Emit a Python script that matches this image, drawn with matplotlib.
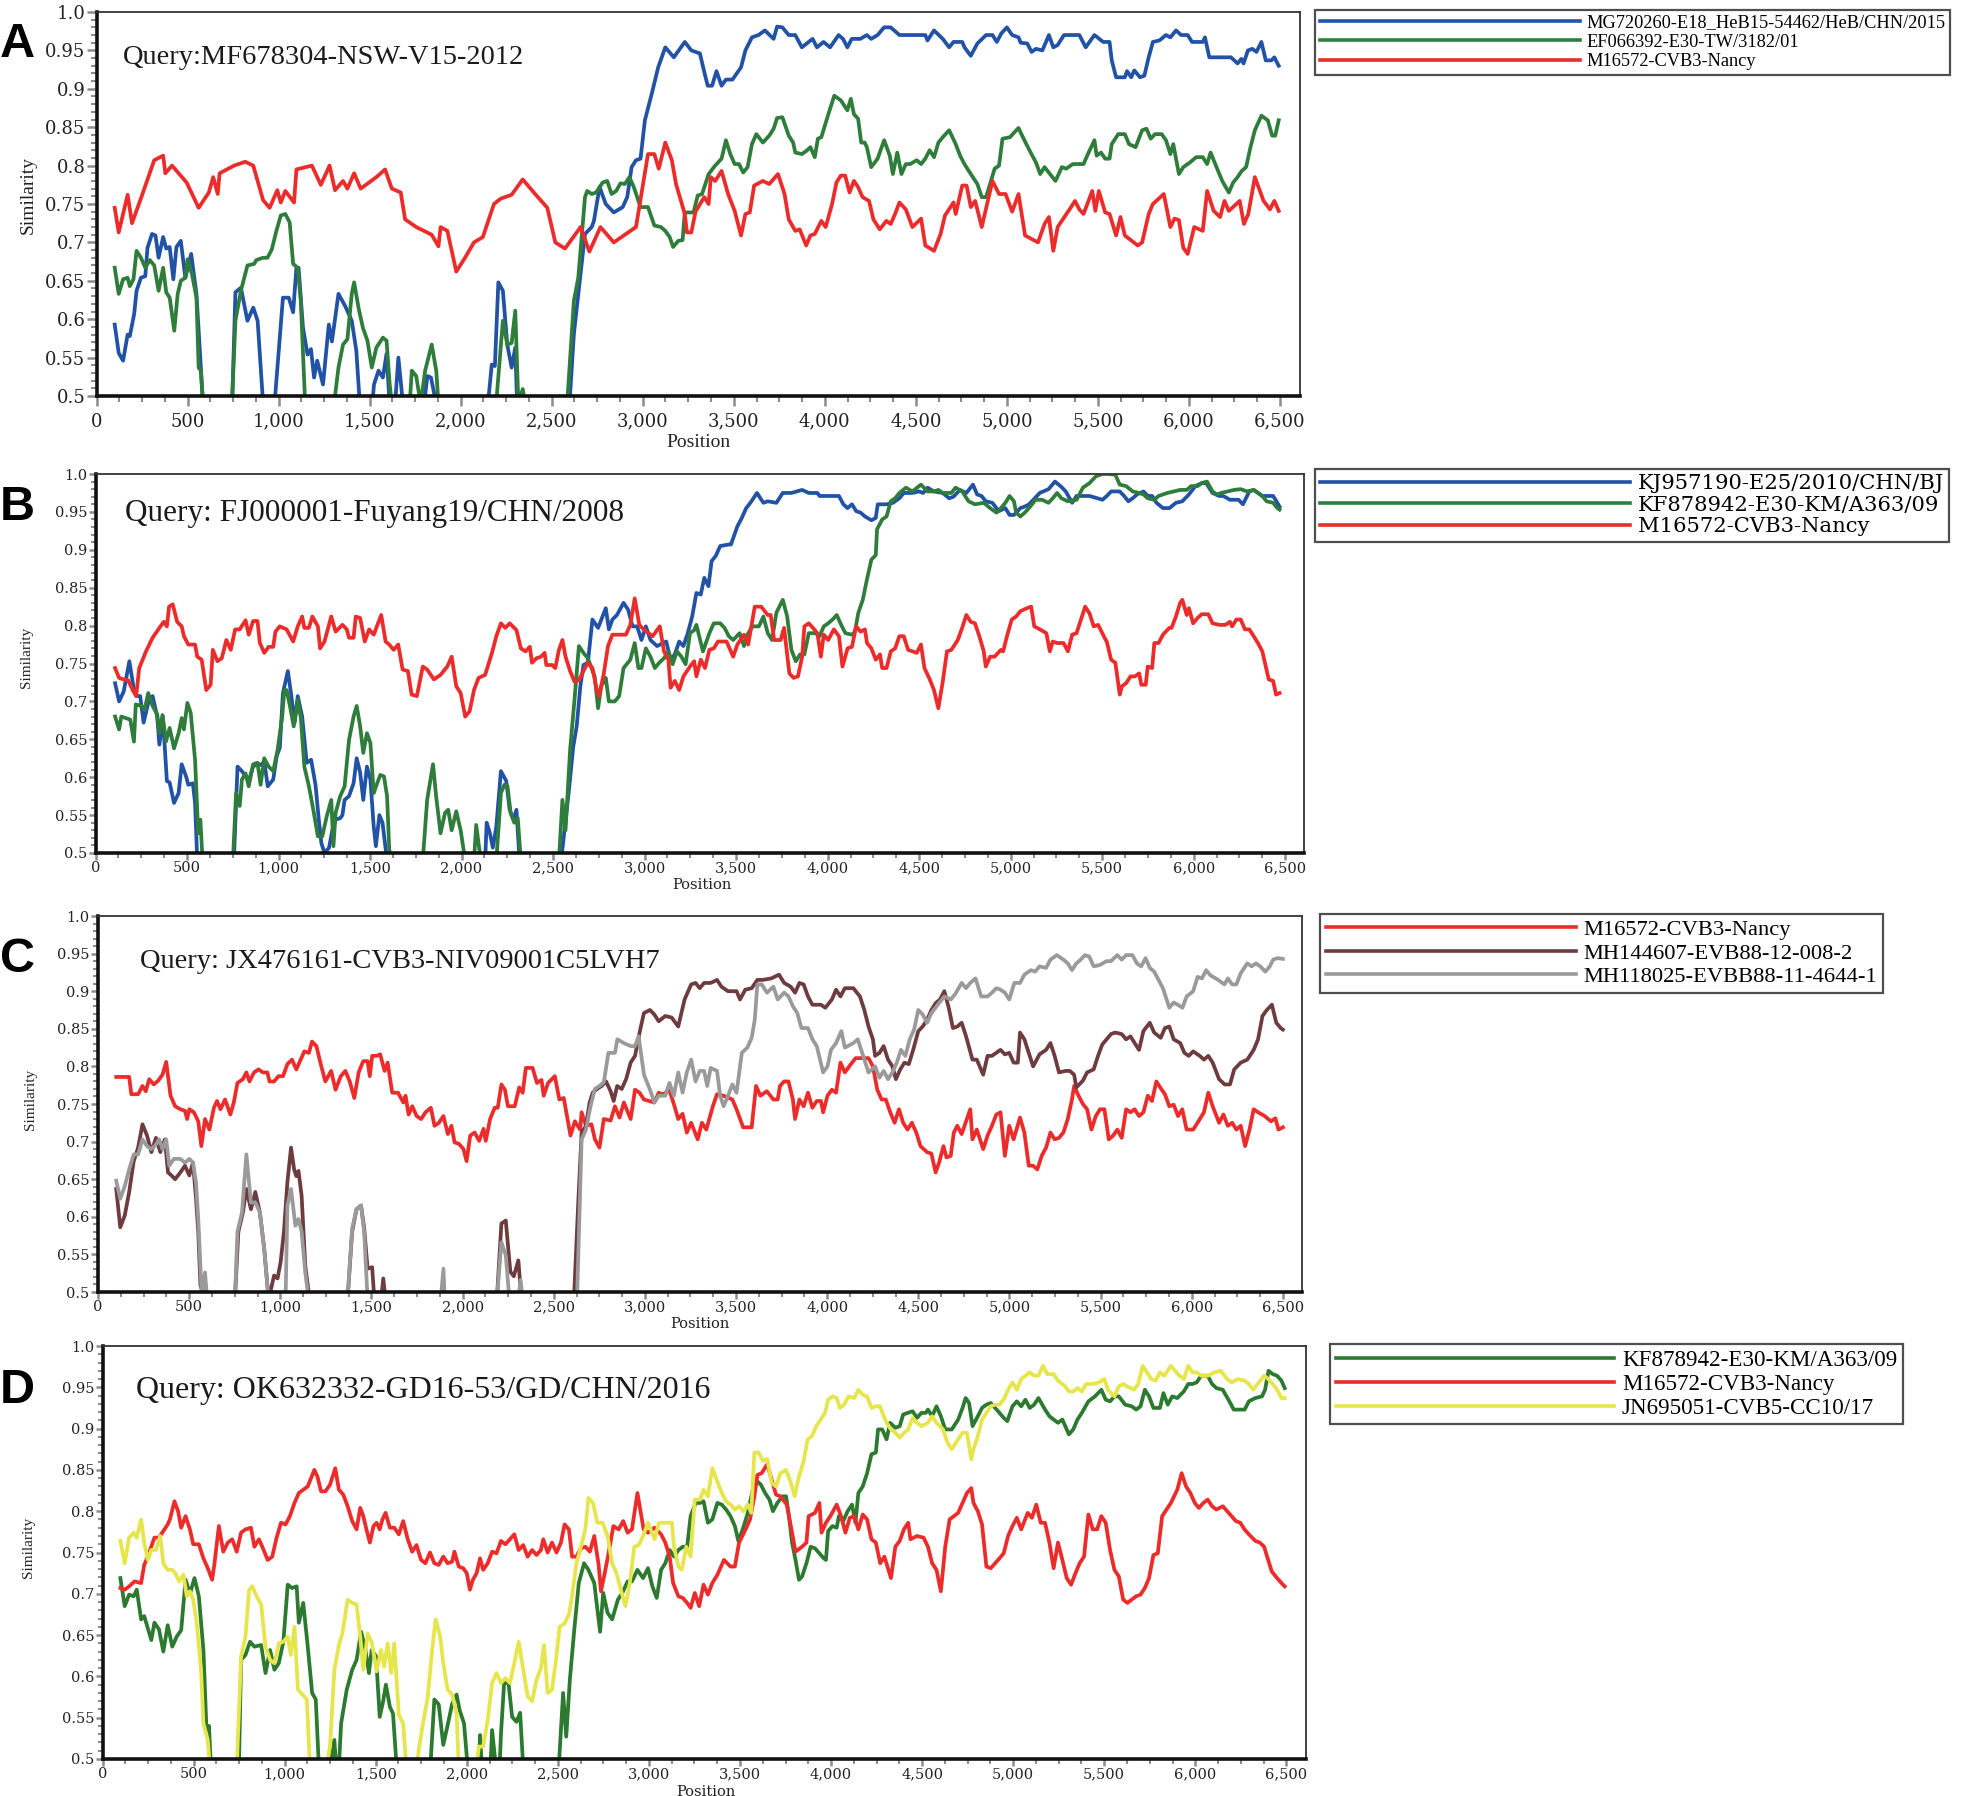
import matplotlib
matplotlib.use("Agg")
import matplotlib.pyplot as plt
from matplotlib.ticker import MultipleLocator, FuncFormatter
from matplotlib.lines import Line2D

W, H, DPI = 1967, 1796, 100

BLUE = "#2152a6"
GREEN = "#2f7d3b"
RED = "#ec2b2b"
BROWN = "#6e3b3e"
GRAY = "#9a9a9a"
YELLOW = "#e6e64c"
DKGREEN = "#2b7a30"

# (position, similarity) pairs; 0.49 = line drops below the axis
A_RED = [(100,.745),(122,.713),(171,.762),(195,.725),(251,.762),(317,.807),(366,.813),(378,.79),(415,.80),(495,.778),(561,.745),(617,.765),(641,.785),(666,.763),(676,.79),(756,.80),(817,.805),(861,.80),(915,.755),(951,.745),(993,.768),(1012,.752),(1037,.767),(1085,.752),(1098,.795),(1183,.80),(1232,.775),(1280,.80),(1310,.768),(1354,.78),(1378,.77),(1415,.79),(1451,.77),(1537,.785),(1585,.795),(1622,.77),(1671,.765),(1695,.73),(1756,.72),(1841,.71),(1878,.695),(1890,.72),(1927,.715),(1976,.662),(2024,.68),(2073,.70),(2122,.707),(2183,.75),(2220,.757),(2280,.762),(2341,.782),(2402,.765),(2476,.745),(2520,.70),(2573,.692),(2659,.72),(2707,.688),(2768,.72),(2841,.70),(2963,.72),(3029,.815),(3064,.815),(3088,.796),(3124,.83),(3160,.807),(3183,.776),(3231,.737),(3243,.713),(3267,.713),(3290,.74),(3338,.759),(3362,.75),(3374,.785),(3398,.78),(3433,.793),(3469,.763),(3505,.741),(3540,.709),(3564,.737),(3588,.739),(3612,.774),(3660,.78),(3695,.776),(3743,.789),(3779,.763),(3802,.73),(3838,.715),(3862,.717),(3898,.696),(3921,.709),(3945,.711),(3981,.728),(4005,.72),(4040,.75),(4064,.778),(4088,.787),(4112,.787),(4136,.765),(4160,.78),(4183,.772),(4207,.759),(4243,.754),(4267,.73),(4302,.717),(4338,.728),(4362,.724),(4386,.737),(4410,.752),(4445,.743),(4481,.72),(4529,.731),(4552,.696),(4600,.689),(4636,.711),(4660,.735),(4707,.752),(4719,.737),(4755,.774),(4779,.774),(4802,.746),(4826,.754),(4862,.72),(4921,.78),(4957,.763),(4993,.763),(5029,.74),(5064,.763),(5100,.709),(5171,.70),(5207,.724),(5231,.733),(5255,.689),(5279,.72),(5350,.745),(5374,.754),(5398,.743),(5421,.737),(5469,.767),(5486,.741),(5505,.767),(5540,.739),(5564,.737),(5600,.709),(5624,.733),(5648,.709),(5719,.696),(5743,.70),(5779,.737),(5802,.75),(5862,.763),(5898,.72),(5921,.731),(5945,.729),(5969,.693),(5993,.685),(6029,.72),(6076,.715),(6100,.767),(6136,.741),(6171,.733),(6195,.754),(6219,.741),(6279,.754),(6302,.724),(6326,.737),(6362,.785),(6410,.754),(6445,.743),(6469,.754),(6493,.741)]

A_BLUE = [(100,.593),(122,.556),(146,.546),(171,.58),(183,.578),(207,.607),(220,.637),(244,.654),(268,.656),(280,.693),(305,.711),(324,.709),(341,.68),(366,.707),(383,.692),(402,.694),(422,.652),(439,.694),(463,.702),(488,.654),(520,.685),(549,.633),(573,.537),(585,.49),(745,.49),(763,.635),(793,.641),(829,.598),(861,.615),(885,.598),(915,.49),(978,.49),(1024,.628),(1056,.628),(1080,.609),(1098,.667),(1110,.667),(1134,.589),(1159,.554),(1178,.561),(1195,.524),(1212,.546),(1244,.515),(1276,.593),(1293,.571),(1329,.633),(1366,.617),(1402,.598),(1427,.559),(1446,.49),(1515,.49),(1524,.515),(1549,.533),(1573,.524),(1593,.555),(1610,.49),(1640,.49),(1658,.55),(1683,.49),(1800,.49),(1817,.526),(1837,.524),(1866,.49),(2150,.49),(2171,.541),(2188,.539),(2207,.648),(2232,.637),(2256,.567),(2280,.537),(2300,.563),(2310,.49),(2598,.49),(2622,.581),(2683,.711),(2720,.72),(2732,.728),(2763,.772),(2797,.75),(2841,.739),(2890,.746),(2915,.759),(2939,.798),(2963,.807),(2988,.809),(3012,.859),(3049,.893),(3085,.928),(3124,.954),(3171,.941),(3231,.961),(3267,.95),(3314,.946),(3338,.922),(3357,.904),(3381,.904),(3405,.923),(3433,.904),(3457,.912),(3493,.912),(3540,.928),(3564,.95),(3600,.967),(3636,.97),(3671,.976),(3719,.965),(3738,.981),(3767,.98),(3802,.97),(3838,.97),(3874,.954),(3933,.965),(3957,.954),(3993,.961),(4029,.954),(4076,.97),(4100,.965),(4124,.954),(4148,.965),(4195,.965),(4231,.97),(4255,.965),(4290,.97),(4326,.98),(4362,.98),(4410,.97),(4552,.97),(4564,.963),(4600,.976),(4648,.965),(4683,.954),(4707,.961),(4755,.961),(4767,.954),(4802,.943),(4838,.959),(4886,.97),(4921,.97),(4945,.961),(4969,.972),(5000,.98),(5029,.97),(5064,.967),(5076,.96),(5112,.959),(5136,.948),(5160,.952),(5195,.95),(5231,.97),(5255,.954),(5279,.957),(5314,.97),(5398,.97),(5433,.954),(5481,.97),(5529,.961),(5564,.961),(5576,.937),(5600,.915),(5648,.915),(5660,.923),(5683,.915),(5700,.924),(5731,.915),(5755,.917),(5779,.941),(5802,.961),(5838,.963),(5874,.97),(5898,.967),(5929,.976),(5957,.97),(5993,.97),(6017,.961),(6076,.961),(6088,.967),(6112,.941),(6231,.941),(6267,.933),(6288,.939),(6300,.933),(6324,.95),(6348,.952),(6371,.948),(6398,.961),(6422,.937),(6453,.937),(6469,.941),(6493,.93)]

A_GREEN = [(100,.667),(122,.633),(146,.652),(171,.654),(183,.643),(203,.652),(220,.689),(244,.68),(268,.667),(293,.677),(317,.67),(341,.637),(366,.667),(383,.635),(402,.628),(427,.585),(446,.633),(463,.65),(488,.654),(500,.678),(524,.659),(549,.628),(561,.537),(573,.533),(585,.49),(744,.49),(763,.598),(793,.637),(829,.67),(866,.672),(878,.677),(915,.68),(939,.68),(963,.691),(988,.715),(1012,.735),(1037,.737),(1061,.726),(1080,.672),(1105,.667),(1122,.624),(1146,.49),(1305,.49),(1329,.537),(1354,.567),(1378,.574),(1402,.633),(1415,.648),(1439,.615),(1463,.589),(1488,.572),(1512,.537),(1537,.563),(1573,.576),(1593,.572),(1610,.516),(1622,.49),(1720,.49),(1732,.533),(1756,.526),(1780,.49),(1805,.533),(1841,.567),(1866,.533),(1878,.49),(2195,.49),(2232,.598),(2256,.567),(2280,.569),(2300,.611),(2317,.49),(2341,.509),(2354,.49),(2585,.49),(2622,.624),(2646,.654),(2683,.759),(2695,.767),(2720,.763),(2744,.765),(2780,.778),(2805,.78),(2829,.763),(2854,.767),(2878,.777),(2902,.776),(2927,.785),(2951,.772),(2988,.746),(3029,.746),(3064,.722),(3100,.72),(3124,.715),(3148,.707),(3167,.694),(3195,.702),(3219,.703),(3231,.739),(3279,.739),(3302,.761),(3326,.763),(3362,.789),(3398,.80),(3433,.809),(3457,.833),(3481,.815),(3505,.802),(3529,.802),(3552,.791),(3576,.798),(3600,.828),(3624,.841),(3660,.83),(3695,.839),(3719,.848),(3738,.862),(3767,.863),(3802,.839),(3826,.83),(3838,.817),(3874,.815),(3898,.819),(3921,.824),(3945,.811),(3962,.835),(3981,.837),(4017,.865),(4052,.891),(4088,.885),(4124,.872),(4143,.887),(4160,.867),(4183,.861),(4200,.83),(4219,.83),(4231,.824),(4255,.798),(4290,.809),(4326,.833),(4357,.813),(4374,.789),(4398,.817),(4421,.789),(4445,.802),(4469,.802),(4505,.807),(4529,.802),(4552,.809),(4576,.82),(4600,.811),(4624,.83),(4648,.837),(4683,.846),(4719,.828),(4743,.813),(4767,.802),(4802,.789),(4838,.776),(4862,.759),(4886,.759),(4933,.796),(4957,.80),(4976,.835),(5017,.837),(5040,.843),(5064,.849),(5088,.837),(5124,.82),(5160,.804),(5183,.789),(5207,.798),(5267,.78),(5302,.798),(5326,.796),(5362,.802),(5386,.802),(5421,.802),(5445,.815),(5481,.833),(5493,.813),(5517,.817),(5540,.809),(5564,.809),(5576,.828),(5612,.841),(5648,.841),(5671,.828),(5707,.824),(5743,.846),(5767,.848),(5790,.835),(5814,.841),(5850,.841),(5874,.833),(5898,.815),(5914,.828),(5945,.789),(5969,.798),(6005,.804),(6040,.811),(6076,.811),(6100,.802),(6119,.817),(6148,.80),(6183,.78),(6219,.765),(6243,.778),(6267,.785),(6290,.793),(6314,.798),(6338,.824),(6362,.846),(6398,.865),(6433,.859),(6457,.839),(6474,.839),(6493,.859)]

B_RED = [(107,.744),(129,.731),(154,.729),(178,.728),(203,.715),(222,.707),(239,.744),(276,.766),(312,.784),(349,.797),(373,.805),(390,.799),(402,.825),(422,.828),(446,.805),(471,.799),(483,.786),(507,.775),(544,.775),(556,.759),(580,.755),(605,.715),(629,.722),(641,.768),(666,.753),(690,.757),(715,.781),(739,.768),(763,.795),(788,.795),(820,.807),(837,.788),(861,.806),(885,.806),(898,.777),(922,.764),(946,.772),(971,.772),(983,.792),(1007,.799),(1044,.795),(1080,.779),(1105,.799),(1129,.812),(1141,.797),(1166,.797),(1185,.812),(1215,.799),(1227,.77),(1251,.779),(1288,.812),(1312,.792),(1349,.801),(1373,.795),(1385,.784),(1410,.784),(1422,.812),(1446,.81),(1471,.779),(1495,.795),(1520,.788),(1561,.814),(1585,.779),(1605,.775),(1629,.768),(1654,.775),(1678,.742),(1707,.74),(1727,.709),(1756,.707),(1788,.746),(1812,.742),(1849,.729),(1885,.735),(1922,.746),(1946,.759),(1971,.72),(1995,.711),(2020,.68),(2044,.687),(2068,.715),(2093,.731),(2129,.735),(2166,.764),(2190,.786),(2215,.803),(2239,.797),(2263,.803),(2300,.794),(2324,.77),(2349,.766),(2373,.772),(2385,.751),(2410,.757),(2434,.759),(2454,.764),(2463,.748),(2495,.748),(2512,.744),(2532,.768),(2551,.781),(2568,.759),(2593,.74),(2617,.726),(2641,.728),(2666,.74),(2690,.751),(2715,.744),(2739,.715),(2751,.707),(2776,.735),(2800,.773),(2824,.788),(2849,.788),(2898,.788),(2922,.801),(2946,.836),(2971,.801),(2995,.795),(3044,.786),(3083,.799),(3106,.766),(3130,.755),(3142,.718),(3165,.727),(3189,.715),(3212,.733),(3248,.746),(3271,.753),(3283,.733),(3307,.755),(3330,.744),(3354,.768),(3378,.77),(3401,.779),(3448,.779),(3484,.759),(3507,.775),(3543,.788),(3566,.775),(3602,.825),(3637,.825),(3673,.814),(3689,.814),(3708,.781),(3743,.781),(3762,.797),(3791,.737),(3814,.731),(3838,.733),(3861,.759),(3873,.799),(3897,.803),(3920,.797),(3944,.79),(3963,.759),(3979,.788),(4003,.781),(4034,.795),(4062,.786),(4081,.746),(4109,.77),(4133,.772),(4156,.799),(4180,.792),(4204,.795),(4215,.777),(4239,.77),(4263,.755),(4286,.762),(4298,.744),(4322,.744),(4345,.766),(4369,.77),(4392,.786),(4416,.786),(4440,.768),(4463,.766),(4487,.764),(4510,.775),(4529,.744),(4558,.729),(4581,.715),(4605,.691),(4629,.726),(4652,.766),(4676,.768),(4711,.781),(4735,.797),(4758,.814),(4782,.805),(4805,.803),(4829,.786),(4853,.766),(4864,.746),(4888,.759),(4912,.759),(4947,.768),(4959,.766),(4982,.788),(5006,.808),(5030,.812),(5053,.819),(5089,.823),(5112,.825),(5129,.799),(5160,.795),(5195,.79),(5214,.766),(5230,.779),(5254,.777),(5289,.777),(5313,.766),(5336,.788),(5360,.79),(5384,.808),(5407,.825),(5431,.816),(5454,.799),(5478,.801),(5513,.784),(5525,.779),(5549,.755),(5572,.751),(5596,.709),(5608,.72),(5631,.724),(5655,.733),(5679,.733),(5702,.737),(5714,.722),(5738,.722),(5749,.746),(5773,.744),(5785,.777),(5808,.777),(5832,.788),(5867,.797),(5879,.797),(5903,.812),(5926,.83),(5938,.834),(5962,.814),(5974,.823),(5997,.803),(6021,.81),(6044,.815),(6080,.815),(6103,.803),(6139,.801),(6174,.801),(6198,.805),(6210,.799),(6233,.808),(6257,.808),(6280,.795),(6304,.795),(6328,.786),(6351,.777),(6375,.766),(6394,.746),(6410,.729),(6434,.727),(6450,.709),(6469,.711)]

B_BLUE = [(107,.724),(129,.70),(154,.713),(185,.753),(210,.715),(227,.707),(244,.707),(263,.672),(288,.698),(312,.707),(337,.68),(349,.643),(368,.68),(390,.595),(405,.593),(429,.566),(454,.579),(471,.617),(495,.601),(507,.59),(532,.592),(544,.566),(556,.49),(756,.49),(776,.614),(800,.608),(837,.595),(861,.614),(885,.618),(905,.616),(922,.621),(941,.588),(971,.597),(990,.628),(1007,.639),(1024,.711),(1051,.74),(1068,.711),(1088,.672),(1105,.707),(1129,.68),(1154,.619),(1178,.623),(1202,.59),(1220,.544),(1234,.513),(1251,.50),(1276,.507),(1293,.529),(1312,.544),(1337,.546),(1349,.55),(1361,.57),(1385,.575),(1410,.592),(1427,.625),(1446,.606),(1463,.57),(1483,.614),(1502,.597),(1520,.535),(1532,.509),(1551,.55),(1568,.54),(1593,.49),(2129,.49),(2137,.54),(2154,.527),(2171,.507),(2190,.535),(2215,.608),(2244,.595),(2263,.557),(2283,.544),(2300,.557),(2317,.49),(2544,.49),(2561,.527),(2585,.579),(2610,.64),(2629,.667),(2649,.72),(2666,.748),(2690,.751),(2715,.808),(2746,.797),(2788,.823),(2805,.795),(2824,.808),(2849,.814),(2885,.83),(2910,.821),(2934,.799),(2959,.799),(2983,.781),(3007,.799),(3032,.781),(3068,.773),(3118,.779),(3142,.755),(3165,.762),(3189,.779),(3212,.773),(3236,.79),(3260,.812),(3283,.843),(3307,.841),(3326,.863),(3349,.852),(3366,.885),(3389,.892),(3413,.905),(3460,.907),(3472,.907),(3507,.931),(3531,.942),(3555,.955),(3578,.962),(3614,.975),(3649,.962),(3673,.964),(3720,.962),(3755,.975),(3802,.975),(3861,.979),(3897,.975),(3944,.975),(3956,.971),(4062,.971),(4086,.96),(4109,.955),(4133,.96),(4156,.951),(4180,.949),(4204,.944),(4239,.939),(4263,.942),(4274,.96),(4322,.96),(4357,.962),(4392,.968),(4416,.975),(4463,.975),(4499,.977),(4522,.975),(4546,.982),(4581,.977),(4629,.975),(4664,.968),(4687,.97),(4723,.979),(4758,.975),(4794,.986),(4817,.973),(4841,.971),(4864,.964),(4900,.962),(4935,.951),(4971,.955),(4994,.946),(5018,.946),(5053,.955),(5077,.957),(5100,.96),(5124,.966),(5159,.975),(5207,.98),(5242,.99),(5277,.983),(5301,.977),(5336,.962),(5360,.971),(5431,.971),(5502,.966),(5525,.971),(5549,.977),(5596,.977),(5620,.971),(5643,.964),(5667,.968),(5690,.973),(5726,.977),(5749,.971),(5773,.971),(5797,.962),(5832,.955),(5867,.955),(5903,.962),(5938,.964),(5974,.973),(6009,.984),(6044,.988),(6068,.988),(6103,.975),(6139,.971),(6162,.971),(6198,.966),(6245,.966),(6269,.96),(6304,.977),(6328,.979),(6351,.975),(6375,.971),(6434,.971),(6457,.962),(6469,.957)]

B_GREEN = [(107,.68),(129,.663),(141,.68),(166,.678),(190,.676),(210,.647),(220,.696),(251,.694),(268,.689),(288,.711),(312,.694),(337,.683),(349,.658),(366,.682),(385,.647),(405,.665),(429,.638),(454,.658),(471,.678),(483,.663),(502,.698),(520,.685),(544,.623),(561,.526),(573,.544),(585,.49),(751,.49),(768,.579),(788,.562),(800,.597),(820,.605),(837,.588),(861,.617),(885,.619),(902,.59),(922,.625),(946,.614),(971,.608),(995,.636),(1020,.68),(1032,.715),(1044,.715),(1063,.693),(1083,.667),(1105,.702),(1122,.678),(1141,.614),(1166,.588),(1190,.557),(1215,.522),(1239,.522),(1263,.548),(1288,.57),(1300,.509),(1312,.553),(1337,.575),(1361,.588),(1385,.649),(1410,.68),(1427,.694),(1446,.667),(1463,.632),(1483,.658),(1502,.645),(1520,.579),(1539,.592),(1556,.603),(1576,.601),(1593,.575),(1605,.504),(1617,.49),(1788,.49),(1812,.57),(1844,.617),(1861,.575),(1885,.526),(1910,.553),(1927,.557),(1946,.53),(1971,.555),(1995,.53),(2020,.49),(2068,.49),(2080,.537),(2105,.49),(2190,.49),(2215,.579),(2234,.59),(2251,.588),(2268,.553),(2288,.54),(2307,.546),(2324,.49),(2532,.49),(2551,.57),(2568,.53),(2593,.636),(2617,.702),(2641,.773),(2666,.764),(2690,.757),(2727,.733),(2746,.691),(2763,.72),(2788,.731),(2805,.70),(2837,.70),(2861,.707),(2885,.744),(2922,.755),(2946,.777),(2966,.744),(2983,.744),(3007,.77),(3032,.759),(3056,.744),(3080,.751),(3106,.757),(3130,.766),(3153,.749),(3177,.766),(3201,.759),(3224,.749),(3248,.79),(3271,.794),(3283,.801),(3319,.766),(3354,.79),(3378,.803),(3413,.803),(3437,.797),(3460,.786),(3484,.781),(3519,.79),(3543,.773),(3566,.79),(3590,.799),(3625,.799),(3649,.812),(3673,.79),(3696,.781),(3720,.817),(3755,.834),(3779,.812),(3802,.768),(3826,.753),(3850,.762),(3873,.762),(3897,.79),(3932,.79),(3956,.786),(3979,.799),(4003,.803),(4027,.808),(4050,.814),(4074,.801),(4097,.79),(4133,.788),(4149,.792),(4168,.817),(4192,.834),(4215,.861),(4239,.887),(4263,.893),(4270,.927),(4298,.94),(4322,.944),(4345,.964),(4369,.968),(4392,.975),(4428,.982),(4463,.977),(4510,.986),(4546,.977),(4581,.977),(4605,.979),(4629,.975),(4676,.975),(4699,.982),(4735,.977),(4770,.964),(4805,.96),(4853,.962),(4888,.955),(4923,.949),(4947,.955),(4971,.962),(4994,.971),(5018,.964),(5030,.949),(5053,.944),(5077,.949),(5100,.955),(5136,.966),(5171,.966),(5207,.962),(5230,.968),(5254,.975),(5277,.968),(5313,.964),(5360,.966),(5395,.982),(5431,.988),(5466,.997),(5502,1.0),(5537,1.0),(5572,.999),(5596,.986),(5631,.984),(5667,.977),(5702,.975),(5726,.973),(5749,.968),(5785,.966),(5808,.971),(5856,.975),(5891,.977),(5926,.979),(5962,.979),(5986,.984),(6021,.984),(6044,.988),(6073,.99),(6103,.977),(6127,.973),(6150,.975),(6186,.977),(6221,.979),(6257,.98),(6292,.977),(6328,.979),(6351,.975),(6375,.971),(6398,.964),(6434,.962),(6457,.955),(6469,.953)]

C_RED = [(100,.786),(171,.786),(183,.763),(220,.763),(244,.774),(262,.767),(281,.783),(306,.776),(330,.781),(354,.789),(374,.806),(398,.761),(423,.747),(452,.743),(477,.741),(489,.73),(501,.743),(526,.739),(550,.727),(567,.694),(587,.73),(611,.716),(636,.745),(653,.754),(672,.743),(697,.756),(726,.736),(745,.752),(765,.778),(795,.783),(814,.792),(831,.78),(856,.792),(880,.796),(905,.792),(929,.792),(941,.78),(966,.78),(990,.787),(1015,.787),(1039,.803),(1064,.809),(1088,.796),(1108,.807),(1132,.82),(1157,.818),(1174,.833),(1198,.827),(1222,.803),(1247,.78),(1279,.794),(1303,.769),(1332,.787),(1357,.794),(1381,.78),(1406,.758),(1430,.792),(1455,.807),(1479,.807),(1491,.787),(1504,.814),(1528,.814),(1548,.816),(1572,.794),(1589,.805),(1614,.765),(1646,.765),(1675,.752),(1687,.761),(1704,.736),(1724,.747),(1748,.734),(1773,.73),(1797,.739),(1826,.745),(1846,.721),(1870,.725),(1895,.734),(1919,.71),(1939,.721),(1956,.699),(1980,.697),(2005,.69),(2022,.674),(2042,.708),(2066,.712),(2091,.701),(2115,.717),(2127,.701),(2151,.73),(2176,.745),(2193,.745),(2213,.776),(2232,.769),(2249,.747),(2286,.747),(2311,.772),(2330,.765),(2347,.798),(2384,.798),(2408,.778),(2433,.782),(2445,.761),(2469,.778),(2506,.787),(2531,.756),(2555,.758),(2592,.708),(2616,.727),(2645,.716),(2653,.739),(2677,.721),(2707,.723),(2726,.703),(2751,.692),(2775,.73),(2812,.728),(2836,.747),(2861,.732),(2885,.752),(2922,.73),(2946,.769),(2971,.765),(2995,.756),(3052,.752),(3076,.765),(3100,.763),(3135,.768),(3159,.75),(3183,.73),(3207,.737),(3230,.712),(3254,.725),(3290,.703),(3313,.725),(3337,.716),(3373,.747),(3396,.763),(3432,.761),(3480,.756),(3503,.743),(3539,.719),(3586,.719),(3610,.774),(3634,.761),(3669,.767),(3705,.756),(3729,.756),(3741,.774),(3764,.78),(3788,.78),(3812,.756),(3824,.73),(3848,.756),(3871,.747),(3895,.765),(3919,.745),(3943,.754),(3966,.754),(3978,.739),(4002,.761),(4026,.769),(4049,.765),(4073,.805),(4097,.792),(4121,.80),(4156,.811),(4227,.811),(4251,.80),(4275,.769),(4299,.756),(4322,.756),(4346,.739),(4370,.725),(4394,.743),(4417,.725),(4441,.716),(4465,.725),(4489,.712),(4512,.694),(4548,.686),(4572,.684),(4595,.659),(4614,.672),(4638,.694),(4655,.679),(4678,.681),(4695,.712),(4714,.721),(4738,.71),(4762,.727),(4785,.743),(4797,.703),(4821,.716),(4856,.69),(4880,.708),(4904,.721),(4928,.736),(4951,.739),(4975,.681),(4999,.721),(5023,.703),(5058,.732),(5082,.712),(5106,.668),(5129,.668),(5153,.663),(5177,.681),(5201,.692),(5225,.712),(5248,.703),(5272,.705),(5296,.712),(5320,.73),(5343,.756),(5355,.774),(5379,.761),(5403,.75),(5426,.743),(5450,.716),(5474,.734),(5497,.743),(5521,.743),(5545,.703),(5569,.708),(5592,.716),(5616,.705),(5640,.743),(5664,.739),(5687,.743),(5711,.734),(5735,.739),(5759,.761),(5782,.754),(5806,.78),(5830,.771),(5853,.763),(5877,.747),(5901,.749),(5925,.734),(5948,.743),(5972,.716),(6008,.716),(6032,.725),(6067,.739),(6091,.765),(6115,.747),(6150,.725),(6174,.736),(6198,.721),(6222,.725),(6245,.716),(6269,.721),(6293,.694),(6317,.716),(6340,.743),(6364,.739),(6400,.734),(6435,.727),(6459,.731),(6476,.716),(6500,.719)]

C_BROWN = [(100,.637),(122,.586),(147,.602),(171,.633),(196,.674),(220,.692),(244,.723),(269,.708),(293,.686),(318,.705),(342,.686),(367,.703),(384,.659),(403,.655),(423,.65),(452,.659),(477,.668),(501,.655),(521,.672),(538,.624),(550,.58),(562,.509),(587,.49),(751,.49),(770,.58),(795,.606),(814,.637),(839,.61),(863,.633),(888,.606),(912,.557),(936,.49),(966,.522),(985,.518),(1002,.54),(1020,.58),(1039,.646),(1059,.692),(1076,.663),(1088,.654),(1100,.661),(1117,.628),(1137,.535),(1161,.49),(1369,.49),(1394,.58),(1418,.61),(1443,.615),(1460,.585),(1479,.531),(1504,.533),(1516,.49),(1553,.49),(1565,.518),(1577,.49),(2188,.49),(2213,.591),(2237,.595),(2262,.527),(2281,.521),(2306,.542),(2323,.49),(2611,.49),(2633,.61),(2653,.712),(2677,.721),(2697,.752),(2714,.765),(2738,.77),(2763,.774),(2787,.78),(2812,.767),(2829,.754),(2848,.774),(2873,.77),(2897,.783),(2922,.805),(2946,.814),(2971,.845),(2995,.871),(3028,.875),(3052,.869),(3076,.86),(3112,.867),(3147,.865),(3183,.853),(3218,.889),(3254,.909),(3278,.911),(3301,.904),(3325,.911),(3361,.911),(3396,.915),(3420,.906),(3456,.9),(3503,.9),(3522,.889),(3551,.902),(3586,.904),(3617,.915),(3646,.915),(3693,.917),(3736,.922),(3764,.911),(3800,.906),(3824,.898),(3848,.911),(3871,.909),(3895,.893),(3919,.882),(3943,.882),(3966,.882),(3990,.878),(4026,.889),(4049,.902),(4073,.893),(4097,.904),(4144,.904),(4180,.893),(4204,.875),(4227,.853),(4251,.836),(4263,.814),(4287,.818),(4310,.827),(4334,.809),(4358,.80),(4377,.783),(4401,.796),(4424,.805),(4448,.803),(4472,.822),(4500,.847),(4524,.853),(4548,.862),(4572,.875),(4595,.884),(4619,.889),(4643,.90),(4667,.878),(4690,.851),(4714,.853),(4738,.858),(4762,.84),(4797,.809),(4821,.809),(4856,.789),(4880,.814),(4904,.814),(4928,.818),(4951,.822),(4975,.816),(4999,.818),(5023,.805),(5046,.805),(5058,.845),(5082,.836),(5106,.818),(5130,.80),(5165,.816),(5201,.822),(5225,.831),(5248,.814),(5272,.792),(5308,.794),(5331,.794),(5355,.789),(5367,.772),(5403,.781),(5426,.792),(5462,.796),(5486,.814),(5509,.829),(5533,.836),(5557,.843),(5580,.845),(5616,.843),(5640,.836),(5664,.84),(5687,.831),(5711,.822),(5735,.847),(5770,.858),(5794,.845),(5830,.838),(5853,.851),(5877,.853),(5901,.836),(5937,.831),(5960,.818),(5984,.814),(6008,.82),(6044,.814),(6067,.809),(6091,.814),(6115,.805),(6150,.783),(6181,.776),(6210,.776),(6233,.796),(6269,.805),(6305,.809),(6340,.822),(6364,.836),(6388,.867),(6412,.875),(6440,.882),(6464,.858),(6488,.851),(6500,.849)]

C_GRAY = [(100,.648),(122,.624),(147,.641),(171,.663),(196,.683),(220,.683),(244,.703),(269,.694),(293,.69),(318,.696),(335,.703),(354,.69),(374,.703),(391,.668),(416,.677),(452,.677),(477,.672),(501,.677),(521,.672),(538,.645),(550,.597),(570,.49),(587,.526),(599,.49),(751,.49),(765,.58),(790,.606),(814,.683),(839,.619),(863,.619),(888,.606),(912,.557),(936,.49),(1029,.49),(1039,.615),(1059,.637),(1083,.588),(1100,.597),(1117,.58),(1137,.526),(1156,.49),(1369,.49),(1394,.584),(1418,.61),(1443,.615),(1460,.58),(1479,.49),(1880,.49),(1895,.531),(1902,.49),(2188,.49),(2213,.566),(2237,.549),(2257,.49),(2306,.49),(2318,.516),(2330,.49),(2628,.49),(2653,.703),(2677,.716),(2702,.747),(2726,.77),(2751,.774),(2775,.779),(2800,.818),(2836,.818),(2849,.836),(2885,.831),(2922,.827),(2946,.827),(2966,.84),(2995,.789),(3028,.769),(3052,.752),(3076,.761),(3112,.761),(3135,.778),(3159,.761),(3183,.792),(3207,.765),(3230,.792),(3254,.809),(3278,.78),(3301,.794),(3325,.794),(3342,.774),(3361,.798),(3396,.794),(3413,.761),(3432,.747),(3456,.761),(3480,.776),(3503,.765),(3532,.818),(3562,.825),(3586,.838),(3603,.862),(3617,.909),(3641,.909),(3670,.898),(3705,.906),(3729,.889),(3764,.898),(3788,.893),(3812,.88),(3836,.871),(3859,.851),(3895,.851),(3919,.836),(3943,.827),(3978,.792),(4002,.80),(4021,.822),(4049,.831),(4078,.847),(4097,.825),(4144,.831),(4168,.836),(4192,.818),(4227,.792),(4263,.80),(4287,.785),(4310,.794),(4334,.783),(4358,.792),(4382,.805),(4405,.822),(4429,.814),(4453,.836),(4477,.849),(4500,.875),(4524,.869),(4548,.858),(4572,.871),(4607,.882),(4643,.893),(4678,.889),(4702,.896),(4738,.911),(4762,.904),(4785,.911),(4814,.917),(4845,.893),(4880,.893),(4904,.898),(4928,.904),(4951,.902),(4975,.898),(4999,.889),(5027,.911),(5058,.911),(5082,.922),(5118,.928),(5141,.926),(5165,.933),(5201,.931),(5225,.942),(5260,.948),(5296,.942),(5320,.937),(5343,.928),(5367,.937),(5391,.942),(5414,.948),(5438,.946),(5462,.933),(5497,.935),(5533,.94),(5557,.94),(5592,.948),(5616,.942),(5640,.948),(5675,.948),(5699,.937),(5723,.933),(5747,.944),(5770,.931),(5794,.926),(5818,.915),(5842,.904),(5877,.878),(5901,.885),(5937,.88),(5949,.878),(5972,.893),(6008,.90),(6032,.919),(6056,.917),(6079,.928),(6103,.921),(6139,.916),(6180,.909),(6198,.917),(6222,.909),(6245,.909),(6269,.924),(6305,.937),(6329,.933),(6352,.937),(6376,.933),(6404,.926),(6428,.933),(6447,.942),(6471,.944),(6500,.943)]

D_RED = [(98,.707),(122,.705),(146,.709),(176,.715),(212,.713),(229,.735),(249,.745),(268,.757),(285,.768),(310,.768),(334,.776),(358,.784),(370,.79),(395,.812),(415,.80),(432,.78),(456,.794),(480,.778),(498,.76),(529,.76),(554,.743),(578,.731),(602,.717),(615,.737),(639,.782),(663,.751),(688,.762),(712,.766),(737,.751),(761,.774),(785,.778),(815,.78),(834,.757),(859,.766),(883,.754),(907,.741),(932,.745),(956,.768),(980,.786),(1005,.784),(1029,.794),(1054,.81),(1078,.822),(1102,.826),(1127,.83),(1163,.85),(1180,.842),(1200,.824),(1224,.824),(1249,.832),(1278,.852),(1298,.826),(1322,.82),(1346,.806),(1371,.788),(1395,.778),(1415,.804),(1432,.794),(1449,.778),(1468,.762),(1488,.782),(1505,.786),(1522,.778),(1537,.79),(1554,.798),(1578,.78),(1602,.78),(1627,.772),(1651,.788),(1676,.766),(1700,.751),(1724,.759),(1749,.741),(1773,.737),(1798,.75),(1822,.737),(1846,.735),(1871,.745),(1895,.737),(1920,.739),(1932,.751),(1956,.733),(1980,.731),(2000,.725),(2017,.705),(2034,.717),(2054,.725),(2073,.743),(2090,.729),(2115,.737),(2139,.751),(2163,.749),(2188,.764),(2212,.76),(2237,.766),(2261,.772),(2285,.753),(2310,.759),(2334,.745),(2359,.753),(2383,.747),(2407,.753),(2420,.766),(2444,.75),(2468,.762),(2493,.75),(2517,.762),(2537,.784),(2561,.778),(2578,.745),(2602,.745),(2627,.755),(2651,.757),(2676,.751),(2700,.77),(2724,.735),(2737,.703),(2761,.729),(2785,.757),(2805,.782),(2834,.778),(2859,.788),(2883,.774),(2907,.778),(2937,.822),(2971,.778),(2995,.774),(3031,.78),(3067,.772),(3090,.762),(3114,.745),(3133,.713),(3162,.697),(3186,.695),(3210,.689),(3229,.683),(3252,.701),(3276,.685),(3300,.711),(3324,.699),(3348,.713),(3376,.723),(3412,.741),(3448,.733),(3472,.733),(3495,.762),(3531,.778),(3555,.79),(3579,.818),(3596,.844),(3619,.846),(3650,.857),(3674,.838),(3698,.82),(3722,.818),(3757,.808),(3781,.78),(3805,.751),(3841,.757),(3865,.762),(3877,.794),(3912,.798),(3936,.81),(3948,.774),(3972,.786),(3996,.794),(4031,.808),(4055,.794),(4079,.774),(4103,.792),(4127,.794),(4150,.778),(4174,.796),(4198,.79),(4222,.766),(4246,.762),(4270,.737),(4293,.745),(4329,.719),(4353,.757),(4377,.764),(4400,.778),(4424,.786),(4436,.766),(4472,.77),(4508,.768),(4532,.757),(4555,.737),(4579,.729),(4603,.703),(4627,.757),(4651,.79),(4675,.794),(4698,.798),(4722,.81),(4746,.822),(4770,.828),(4782,.81),(4806,.80),(4829,.784),(4853,.733),(4877,.731),(4901,.737),(4925,.743),(4948,.749),(4972,.77),(4996,.782),(5020,.792),(5044,.778),(5080,.798),(5103,.792),(5127,.808),(5151,.786),(5175,.786),(5199,.762),(5222,.731),(5246,.762),(5270,.741),(5294,.719),(5318,.711),(5342,.725),(5365,.737),(5389,.745),(5413,.796),(5437,.778),(5461,.778),(5484,.794),(5508,.786),(5532,.753),(5556,.729),(5580,.721),(5604,.693),(5627,.689),(5651,.693),(5675,.697),(5699,.699),(5723,.707),(5746,.719),(5770,.747),(5794,.749),(5818,.794),(5842,.802),(5866,.81),(5901,.826),(5925,.846),(5949,.83),(5973,.822),(5997,.81),(6020,.804),(6044,.81),(6068,.814),(6092,.806),(6116,.802),(6151,.806),(6175,.80),(6199,.794),(6223,.788),(6247,.786),(6270,.778),(6294,.772),(6330,.764),(6354,.762),(6378,.757),(6397,.743),(6420,.727),(6449,.719),(6473,.713),(6491,.709)]

D_GREEN = [(98,.719),(122,.685),(146,.699),(171,.697),(188,.705),(212,.669),(229,.673),(249,.658),(268,.644),(285,.665),(310,.657),(334,.63),(358,.662),(383,.636),(407,.648),(432,.656),(456,.717),(480,.70),(505,.719),(529,.697),(554,.632),(571,.535),(585,.54),(595,.49),(749,.49),(761,.62),(785,.626),(810,.642),(834,.636),(871,.638),(895,.604),(920,.632),(944,.608),(968,.616),(993,.642),(1017,.711),(1041,.707),(1066,.709),(1078,.665),(1102,.689),(1127,.636),(1151,.58),(1171,.572),(1188,.49),(1249,.49),(1273,.523),(1283,.49),(1298,.49),(1310,.543),(1341,.584),(1371,.608),(1395,.62),(1420,.654),(1444,.632),(1463,.604),(1478,.632),(1502,.624),(1522,.551),(1541,.57),(1556,.59),(1578,.563),(1595,.555),(1615,.49),(1800,.49),(1822,.572),(1846,.566),(1871,.517),(1895,.541),(1920,.567),(1944,.578),(1961,.559),(1985,.543),(2005,.49),(2066,.49),(2073,.529),(2083,.49),(2130,.49),(2139,.535),(2160,.49),(2180,.49),(2188,.531),(2205,.592),(2229,.592),(2249,.551),(2273,.545),(2293,.556),(2310,.49),(2505,.49),(2529,.58),(2546,.527),(2566,.596),(2590,.656),(2615,.713),(2644,.737),(2668,.729),(2700,.713),(2717,.681),(2732,.654),(2749,.701),(2773,.677),(2798,.669),(2830,.693),(2854,.701),(2883,.715),(2907,.715),(2937,.729),(2968,.719),(2995,.731),(3019,.709),(3043,.695),(3067,.729),(3090,.737),(3114,.753),(3138,.745),(3162,.753),(3186,.757),(3210,.757),(3229,.794),(3257,.81),(3281,.81),(3300,.812),(3324,.786),(3348,.79),(3376,.81),(3400,.808),(3424,.802),(3448,.794),(3472,.782),(3491,.764),(3515,.778),(3543,.798),(3572,.828),(3596,.836),(3615,.832),(3638,.822),(3662,.814),(3681,.80),(3705,.81),(3733,.818),(3753,.818),(3769,.794),(3786,.762),(3805,.741),(3824,.717),(3841,.721),(3865,.737),(3888,.757),(3912,.755),(3936,.749),(3960,.743),(3972,.741),(3984,.776),(4008,.782),(4031,.78),(4043,.794),(4067,.788),(4091,.80),(4115,.808),(4134,.786),(4150,.822),(4174,.83),(4198,.846),(4222,.869),(4246,.871),(4258,.899),(4281,.899),(4305,.887),(4324,.907),(4353,.901),(4377,.903),(4396,.917),(4420,.919),(4448,.921),(4472,.913),(4496,.919),(4520,.919),(4532,.923),(4555,.915),(4579,.927),(4603,.915),(4627,.899),(4663,.899),(4698,.911),(4722,.925),(4739,.937),(4758,.931),(4777,.903),(4806,.915),(4829,.925),(4853,.929),(4877,.931),(4901,.925),(4925,.919),(4948,.913),(4968,.909),(4996,.927),(5020,.933),(5044,.927),(5067,.935),(5091,.925),(5115,.929),(5139,.937),(5175,.923),(5199,.915),(5222,.911),(5246,.907),(5270,.911),(5306,.893),(5330,.899),(5353,.911),(5377,.919),(5413,.933),(5449,.939),(5484,.947),(5508,.935),(5532,.933),(5556,.939),(5580,.939),(5615,.929),(5651,.927),(5675,.923),(5699,.927),(5723,.947),(5746,.939),(5770,.925),(5806,.925),(5825,.943),(5849,.929),(5873,.939),(5901,.937),(5937,.945),(5961,.954),(5985,.954),(6008,.956),(6032,.964),(6068,.964),(6092,.954),(6116,.949),(6151,.947),(6187,.933),(6211,.923),(6271,.923),(6294,.933),(6330,.937),(6366,.939),(6383,.947),(6402,.97),(6425,.966),(6449,.964),(6473,.958),(6491,.949)]

D_YELLOW = [(98,.764),(122,.737),(146,.768),(171,.774),(188,.768),(212,.79),(229,.762),(249,.741),(268,.753),(293,.753),(317,.77),(334,.737),(358,.729),(383,.729),(400,.725),(420,.715),(444,.723),(463,.697),(480,.703),(498,.693),(517,.665),(541,.608),(554,.543),(578,.523),(590,.49),(737,.49),(761,.624),(785,.648),(805,.705),(822,.709),(846,.697),(871,.687),(895,.636),(920,.62),(944,.616),(968,.64),(993,.642),(1017,.648),(1034,.626),(1054,.66),(1073,.584),(1098,.578),(1122,.572),(1139,.49),(1229,.49),(1249,.515),(1273,.608),(1298,.638),(1317,.652),(1346,.693),(1371,.689),(1395,.687),(1415,.648),(1432,.608),(1456,.652),(1480,.64),(1505,.606),(1529,.632),(1546,.612),(1566,.64),(1585,.604),(1602,.64),(1627,.553),(1651,.543),(1668,.49),(1724,.49),(1739,.515),(1761,.545),(1785,.574),(1810,.632),(1829,.669),(1854,.648),(1871,.616),(1895,.584),(1920,.578),(1944,.555),(1956,.49),(2054,.49),(2066,.515),(2090,.515),(2115,.547),(2139,.592),(2163,.604),(2188,.592),(2212,.598),(2237,.592),(2261,.616),(2285,.642),(2310,.608),(2334,.576),(2359,.57),(2383,.596),(2407,.61),(2424,.638),(2444,.58),(2468,.584),(2490,.62),(2510,.66),(2537,.664),(2561,.675),(2578,.697),(2602,.737),(2627,.757),(2651,.778),(2668,.816),(2693,.81),(2717,.786),(2746,.786),(2773,.77),(2798,.737),(2822,.725),(2846,.705),(2871,.685),(2895,.713),(2920,.757),(2944,.759),(2968,.77),(2995,.786),(3031,.766),(3055,.786),(3090,.786),(3126,.786),(3138,.757),(3162,.733),(3181,.729),(3205,.757),(3229,.745),(3252,.814),(3281,.814),(3300,.826),(3324,.818),(3348,.852),(3376,.836),(3400,.822),(3424,.812),(3448,.808),(3472,.802),(3495,.806),(3519,.80),(3543,.808),(3562,.798),(3579,.871),(3603,.871),(3626,.861),(3650,.863),(3674,.834),(3698,.83),(3722,.846),(3753,.85),(3777,.836),(3800,.818),(3824,.842),(3848,.859),(3872,.887),(3896,.891),(3919,.903),(3943,.911),(3967,.919),(3984,.935),(4008,.939),(4031,.937),(4048,.925),(4072,.929),(4096,.939),(4127,.937),(4150,.947),(4174,.941),(4198,.939),(4222,.925),(4246,.927),(4270,.927),(4282,.919),(4305,.907),(4329,.899),(4353,.895),(4377,.889),(4401,.895),(4424,.899),(4448,.913),(4472,.907),(4496,.903),(4532,.907),(4555,.915),(4579,.907),(4615,.899),(4639,.883),(4663,.875),(4686,.883),(4722,.895),(4746,.895),(4770,.863),(4782,.875),(4806,.891),(4829,.911),(4853,.919),(4877,.927),(4901,.929),(4925,.929),(4948,.935),(4972,.947),(4996,.956),(5020,.947),(5044,.96),(5067,.964),(5091,.968),(5115,.964),(5139,.964),(5163,.976),(5187,.966),(5222,.966),(5246,.958),(5282,.952),(5306,.945),(5330,.945),(5353,.949),(5377,.945),(5401,.954),(5437,.954),(5473,.956),(5501,.96),(5520,.947),(5556,.939),(5580,.951),(5604,.954),(5627,.951),(5663,.947),(5687,.954),(5711,.976),(5735,.968),(5758,.96),(5782,.958),(5806,.968),(5830,.964),(5866,.976),(5889,.97),(5913,.964),(5937,.96),(5961,.976),(5985,.968),(6008,.968),(6032,.964),(6068,.964),(6104,.968),(6139,.97),(6175,.96),(6199,.956),(6235,.96),(6271,.958),(6294,.954),(6318,.947),(6342,.954),(6378,.964),(6401,.96),(6425,.954),(6449,.947),(6473,.937),(6491,.937)]

SERIF = "Liberation Serif"
TICKFONT = "DejaVu Serif"


def ytick(v, _):
    s = f"{v:.2f}"
    return s[:-1] if s.endswith("0") else s


def xtick(v, _):
    return f"{int(round(v)):,}"


fig = plt.figure(figsize=(W / DPI, H / DPI), dpi=DPI)
fig.patch.set_facecolor("white")


def fx(x):
    return x / W


def fy(y):
    return 1 - y / H


PANELS = [
    dict(letter="A", letter_y=57, box=(96.5, 12, 1300, 396), xmax=6610,
         query="Query:MF678304-NSW-V15-2012", q_xy=(123, 64), q_size=20.5,
         series=[(A_BLUE, BLUE, "MG720260-E18_HeB15-54462/HeB/CHN/2015"),
                 (A_GREEN, GREEN, "EF066392-E30-TW/3182/01"),
                 (A_RED, RED, "M16572-CVB3-Nancy")],
         leg_xy=(1315, 10), leg_font=SERIF, leg_size=13.2, handle_px=260,
         tick_size=13, tick_len=7, sim=(28, 195, 14), pos=(698, 442, 14, SERIF), xpad=5),
    dict(letter="B", letter_y=520, box=(95.5, 474, 1303.5, 853), xmax=6600,
         query="Query: FJ000001-Fuyang19/CHN/2008", q_xy=(125, 521), q_size=22.5,
         series=[(B_BLUE, BLUE, "KJ957190-E25/2010/CHN/BJ"),
                 (B_GREEN, GREEN, "KF878942-E30-KM/A363/09"),
                 (B_RED, RED, "M16572-CVB3-Nancy")],
         leg_xy=(1315, 469), leg_font=TICKFONT, leg_size=15.2, handle_px=310,
         tick_size=10.5, tick_len=5, sim=(26, 657, 11), pos=(702, 885, 10.5, TICKFONT), xpad=1),
    dict(letter="C", letter_y=972, box=(98, 916, 1302, 1292), xmax=6605,
         query="Query: JX476161-CVB3-NIV09001C5LVH7", q_xy=(140, 968), q_size=20.5,
         series=[(C_RED, RED, "M16572-CVB3-Nancy"),
                 (C_BROWN, BROWN, "MH144607-EVB88-12-008-2"),
                 (C_GRAY, GRAY, "MH118025-EVBB88-11-4644-1")],
         leg_xy=(1320, 914), leg_font=SERIF, leg_size=16.2, handle_px=250,
         tick_size=10.5, tick_len=5, sim=(30, 1099, 11), pos=(700, 1324, 10.5, TICKFONT), xpad=1),
    dict(letter="D", letter_y=1403, box=(102.5, 1346, 1305.5, 1759), xmax=6605,
         query="Query: OK632332-GD16-53/GD/CHN/2016", q_xy=(136, 1398), q_size=23,
         series=[(D_GREEN, DKGREEN, "KF878942-E30-KM/A363/09"),
                 (D_RED, RED, "M16572-CVB3-Nancy"),
                 (D_YELLOW, YELLOW, "JN695051-CVB5-CC10/17")],
         leg_xy=(1330, 1344), leg_font=SERIF, leg_size=16.6, handle_px=278,
         tick_size=10.5, tick_len=5, sim=(28, 1547, 11), pos=(706, 1792, 10.5, TICKFONT), xpad=1),
]

for p in PANELS:
    l, t, r, b = p["box"]
    ax = fig.add_axes([fx(l), fy(b), (r - l) / W, (b - t) / H])
    ax.set_xlim(0, p["xmax"])
    ax.set_ylim(0.5, 1.0)

    handles, labels = [], []
    for data, color, label in p["series"]:
        xs, ys = zip(*data)
        ax.plot(xs, ys, color=color, lw=2.7, solid_joinstyle="round")
        handles.append(Line2D([], [], color=color, lw=2.6))
        labels.append(label)

    ax.xaxis.set_major_locator(MultipleLocator(500))
    ax.xaxis.set_minor_locator(MultipleLocator(125))
    ax.yaxis.set_major_locator(MultipleLocator(0.05))
    ax.yaxis.set_minor_locator(MultipleLocator(0.01))
    ax.xaxis.set_major_formatter(FuncFormatter(xtick))
    ax.yaxis.set_major_formatter(FuncFormatter(ytick))
    ax.tick_params(which="major", direction="out", color="#8c8c8c", width=1.8,
                   length=p["tick_len"])
    ax.tick_params(which="minor", direction="out", color="#8c8c8c", width=1.5,
                   length=p["tick_len"] * 0.65)
    ax.tick_params(axis="y", which="major", pad=1)
    ax.tick_params(axis="x", which="major", pad=p["xpad"])
    for lab in ax.get_xticklabels() + ax.get_yticklabels():
        lab.set_fontfamily(TICKFONT)
        lab.set_fontsize(p["tick_size"])
        lab.set_color("#222222")

    for side in ("left", "bottom"):
        ax.spines[side].set_linewidth(2.6)
        ax.spines[side].set_color("#111111")
    for side in ("top", "right"):
        ax.spines[side].set_linewidth(1.3)
        ax.spines[side].set_color("#333333")

    qx, qy = p["q_xy"]
    fig.text(fx(qx), fy(qy), p["query"], family=SERIF, fontsize=p["q_size"],
             color="#1a1a1a", ha="left", va="baseline")

    fig.text(fx(0), fy(p["letter_y"]), p["letter"], family="Liberation Sans",
             weight="bold", fontsize=35, ha="left", va="baseline")

    sx, sy, ss = p["sim"]
    fig.text(fx(sx), fy(sy), "Similarity", family=SERIF, fontsize=ss,
             rotation=90, ha="center", va="center", color="#222222")
    px_, py_, ps, pf = p["pos"]
    fig.text(fx(px_), fy(py_), "Position", family=pf, fontsize=ps,
             ha="center", va="center", color="#222222")

    lx, ly = p["leg_xy"]
    hl = p["handle_px"] / (p["leg_size"] * DPI / 72)
    leg = ax.legend(handles, labels, loc="upper left",
                    bbox_to_anchor=(fx(lx), fy(ly)), bbox_transform=fig.transFigure,
                    borderaxespad=0, frameon=True, fancybox=False,
                    handlelength=hl, handletextpad=0.35, borderpad=0.25,
                    labelspacing=0.12,
                    prop={"family": p["leg_font"], "size": p["leg_size"]})
    leg.get_frame().set_edgecolor("#222222")
    leg.get_frame().set_linewidth(1.6)

fig.savefig("out.png", dpi=DPI, facecolor="white")
